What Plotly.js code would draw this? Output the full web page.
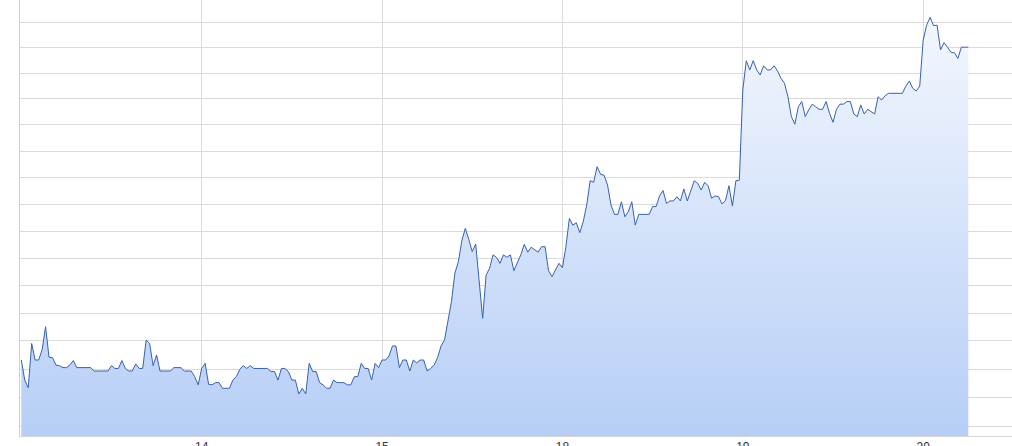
<!DOCTYPE html>
<html>
<head>
<meta charset="utf-8">
<script src="https://cdn.plot.ly/plotly-3.0.1.min.js"></script>
<style>
  html, body { margin: 0; padding: 0; background: #fff; }
  #chart { width: 1012px; height: 446px; }
</style>
</head>
<body>
<div id="chart"></div>
<script>
// intraday prices, one array per trading day
var day13 = [109.32, 108.61, 108.34, 109.91, 109.32, 109.32, 109.68, 110.51, 109.42, 109.40,
  109.14, 109.12, 109.05, 109.05, 109.14, 109.30, 109.05, 109.05, 109.05, 109.05,
  109.05, 108.93, 108.93, 108.93, 108.93, 108.93, 109.12, 109.02, 109.02, 109.30,
  109.02, 108.93, 108.93, 109.18, 109.02, 109.02, 110.03, 109.91, 109.12, 109.50,
  108.93, 108.93, 108.93, 108.93, 109.05, 109.05, 109.05, 108.93, 108.93, 108.93,
  108.73, 108.44];
var day14 = [109.02, 109.20, 108.46, 108.44, 108.52, 108.52, 108.32, 108.32, 108.32, 108.61,
  108.73, 108.99, 109.12, 109.02, 109.12, 109.02, 109.02, 109.02, 109.02, 109.02,
  108.91, 108.91, 108.61, 109.02, 109.02, 108.91, 108.61, 108.61, 108.12, 108.32,
  108.12, 109.20, 108.91, 108.91, 108.52, 108.44, 108.32, 108.32, 108.61, 108.52,
  108.52, 108.52, 108.44, 108.44, 108.73, 108.73, 109.20, 109.02, 109.02, 108.61,
  109.20, 109.05];
var day15 = [109.32, 109.32, 109.46, 109.82, 109.82, 109.05, 109.32, 109.32, 108.93, 109.32,
  109.22, 109.32, 109.32, 108.93, 109.02, 109.14, 109.40, 109.82, 110.03, 110.75,
  111.41, 112.45, 112.87, 113.64, 114.10, 113.69, 113.24, 113.52, 112.14, 110.81,
  112.38, 112.63, 113.12, 113.03, 112.81, 113.12, 113.03, 113.12, 112.54, 112.81,
  113.12, 113.51, 113.22, 113.40, 113.30, 113.22, 113.42, 113.42, 112.54, 112.32,
  112.57, 112.81];
var day18 = [112.65, 113.42, 114.47, 114.22, 114.31, 113.94, 114.35, 114.97, 115.88, 115.82,
  116.41, 116.12, 116.09, 115.72, 114.97, 114.62, 114.62, 115.09, 114.53, 114.72,
  115.09, 114.22, 114.62, 114.62, 114.62, 114.62, 114.91, 114.91, 115.31, 115.51,
  115.03, 115.12, 115.12, 115.28, 115.12, 115.57, 115.12, 115.51, 115.88, 115.78,
  115.53, 115.82, 115.69, 115.22, 115.31, 115.28, 115.01, 115.13, 115.69, 114.93,
  115.88, 115.90];
var day19 = [119.35, 120.49, 120.13, 120.49, 120.13, 119.93, 120.29, 120.13, 120.13, 120.29,
  120.09, 119.80, 119.61, 119.09, 118.32, 118.03, 118.70, 118.90, 118.32, 118.58,
  118.80, 118.70, 118.60, 118.60, 118.90, 118.45, 118.10, 118.60, 118.80, 118.80,
  118.90, 118.90, 118.42, 118.32, 118.77, 118.42, 118.60, 118.51, 118.42, 119.09,
  118.96, 119.12, 119.22, 119.22, 119.22, 119.22, 119.22, 119.50, 119.70, 119.41,
  119.31, 119.50];
var day20 = [121.30, 121.89, 122.20, 121.87, 121.89, 120.91, 121.20, 121.02, 120.82, 120.80,
  120.58, 121.02, 121.02, 121.02];

var days = [day13, day14, day15, day18, day19, day20];
var dayLabels = ['14', '15', '18', '19', '20'];
var gridPrices = [107, 108, 109, 110, 111, 112, 113, 114, 115, 116, 117, 118, 119, 120, 121, 122];

var prices = [].concat.apply([], days);
var bars = prices.map(function (p, i) { return i; });

// first bar of each labelled day
var dayStarts = [];
var count = 0;
for (var d = 0; d < days.length - 1; d++) {
  count += days[d].length;
  dayStarts.push(count);
}

var trace = {
  x: bars,
  y: prices,
  type: 'scatter',
  mode: 'lines',
  line: { color: '#3561b3', width: 1 },
  fill: 'tozeroy',
  fillgradient: {
    type: 'vertical',
    start: 106.65,
    stop: 122.9,
    colorscale: [[0, '#b6cef6'], [1, '#f6f9fe']]
  },
  hoverinfo: 'skip'
};

var layout = {
  width: 1012,
  height: 446,
  margin: { l: 20, r: 0, t: 0, b: 10 },
  paper_bgcolor: '#fff',
  plot_bgcolor: '#fff',
  showlegend: false,
  xaxis: {
    range: [-0.37, 285.6],
    tickvals: dayStarts,
    ticktext: dayLabels,
    showgrid: true,
    gridcolor: '#dadada',
    gridwidth: 1,
    zeroline: false,
    showline: true,
    linecolor: '#d8d8d8',
    ticks: '',
    tickfont: { family: 'Liberation Sans, Arial, sans-serif', size: 12, color: '#333' }
  },
  yaxis: {
    type: 'log',
    range: [2.027972, 2.08952],
    tickvals: gridPrices,
    showticklabels: false,
    showgrid: true,
    gridcolor: '#dadada',
    gridwidth: 1,
    zeroline: false,
    showline: true,
    linecolor: '#d0d0d0',
    ticks: ''
  }
};

Plotly.newPlot('chart', [trace], layout, { displayModeBar: false, staticPlot: true });
</script>
</body>
</html>
